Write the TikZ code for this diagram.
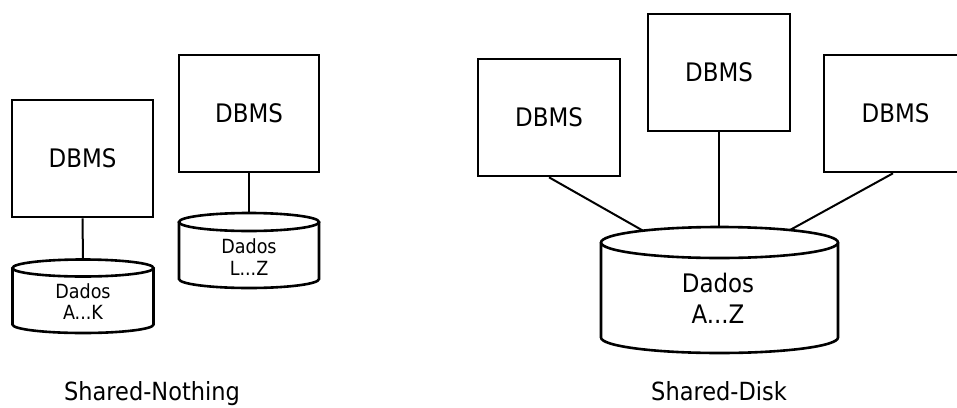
\documentclass[tikz,border=0pt]{standalone}
\usepackage{fontspec}
\setmainfont{DejaVu Sans Condensed}
\begin{document}
\begin{tikzpicture}[x=1pt,y=-1pt,
  box/.style={draw, line width=2.6pt, inner sep=0pt, minimum height=117pt,
              font=\fontsize{25.5}{28}\selectfont},
  outl/.style={draw, line width=2.6pt},
  link/.style={draw, line width=2pt},
  smalltxt/.style={anchor=base, inner sep=0pt, font=\fontsize{19.5}{22}\selectfont},
  bigtxt/.style={anchor=base, inner sep=0pt, font=\fontsize{25.5}{28}\selectfont},
  caption/.style={anchor=base, inner sep=0pt, font=\fontsize{25}{28}\selectfont}]
\useasboundingbox (0,0) rectangle (957,407);
\clip (0,0) rectangle (957,407);

% ---------- Shared-Nothing ----------
\node[box, minimum width=141pt] (n1) at (82.5,158.5) {DBMS};
\node[box, minimum width=140pt] (n2) at (249,113.5) {DBMS};

% disk of the first node
\draw[outl] (83,268) ellipse [x radius=70.5pt, y radius=8.5pt];
\draw[outl] (12.5,268) -- (12.5,324.5)
  arc[start angle=180, end angle=360, x radius=70.5pt, y radius=8.5pt] -- (153.5,268);
\coordinate (d1top) at (83,259.5);
\node[smalltxt] (d1a) at (83,298) {Dados};
\node[smalltxt] (d1b) at (83,319) {A...K};

% disk of the second node
\draw[outl] (249,222) ellipse [x radius=70pt, y radius=9pt];
\draw[outl] (179,222) -- (179,279)
  arc[start angle=180, end angle=360, x radius=70pt, y radius=9pt] -- (319,222);
\coordinate (d2top) at (249,213);
\node[smalltxt] (d2a) at (249,253) {Dados};
\node[smalltxt] (d2b) at (249,275) {L...Z};

\draw[link] (n1.south) -- (d1top);
\draw[link] (n2.south) -- (d2top);

\node[caption] (capn) at (152,400) {Shared-Nothing};

% ---------- Shared-Disk ----------
\node[box, minimum width=142pt] (sa) at (549,117.5) {DBMS};
\node[box, minimum width=142pt] (sb) at (719,72.5) {DBMS};
\node[box, minimum width=143pt] (sc) at (895.5,113.5) {DBMS};

\draw[outl] (719.5,242.5) ellipse [x radius=118.5pt, y radius=15.5pt];
\draw[outl] (601,242.5) -- (601,337.5)
  arc[start angle=180, end angle=360, x radius=118.5pt, y radius=15.5pt] -- (838,242.5);
\coordinate (dl) at (643,230.7);
\coordinate (dm) at (719,227);
\coordinate (dr) at (790,230);
\node[bigtxt] (dsa) at (718,292) {Dados};
\node[bigtxt] (dsb) at (718,323) {A...Z};

\draw[link] (sa.south) -- (dl);
\draw[link] (sb.south) -- (dm);
\draw[link] ([xshift=-2.5pt]sc.south) -- (dr);

\node[caption] (capd) at (719,400) {Shared-Disk};
\end{tikzpicture}
\end{document}
